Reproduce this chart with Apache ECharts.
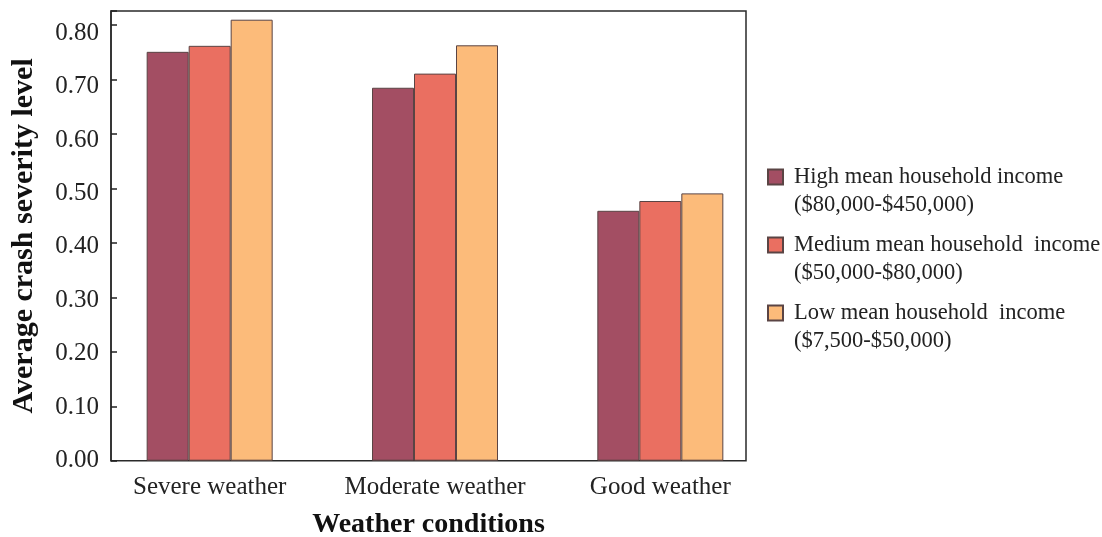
<!DOCTYPE html>
<html>
<head>
<meta charset="utf-8">
<script src="https://cdn.jsdelivr.net/npm/echarts@6/dist/echarts.min.js"></script>
<style>
html,body{margin:0;padding:0;background:#fff;}
#chart{width:1102px;height:537px;}
</style>
</head>
<body>
<div id="chart"></div>
<script>
const categories = ['Severe weather', 'Moderate weather', 'Good weather'];
const seriesNames = [
  'High mean household income\n($80,000-$450,000)',
  'Medium mean household  income\n($50,000-$80,000)',
  'Low mean household  income\n($7,500-$50,000)'
];
const highIncome = [0.751, 0.685, 0.459];
const mediumIncome = [0.762, 0.711, 0.477];
const lowIncome = [0.810, 0.763, 0.491];
const yTicks = [0, 0.1, 0.2, 0.3, 0.4, 0.5, 0.6, 0.7, 0.8];
const colors = ['#A34E63', '#EA6F61', '#FCBB7A'];

const FONT = '"Liberation Serif", "Times New Roman", serif';
const Y_MAX = 0.826;

// rich styles: tick labels drift slightly downward towards the top in the reference
const labelRich = {};
yTicks.forEach((t, k) => {
  labelRich['t' + k] = { fontFamily: FONT, fontSize: 25, color: '#222', padding: [2 * k, 0, 0, 0] };
});

const chart = echarts.init(document.getElementById('chart'));
const values = [highIncome, mediumIncome, lowIncome];

chart.setOption({
  animation: false,
  grid: [
    { left: 111, right: 356, top: 11, bottom: 76.3, show: true, borderColor: '#2a2a2a', borderWidth: 1.5, backgroundColor: 'transparent', containLabel: false, outerBoundsMode: 'none' },
    { left: 97, right: 329, top: 11, bottom: 76.3, containLabel: false, outerBoundsMode: 'none' }
  ],
  xAxis: [
    {
      gridIndex: 0, type: 'value', min: 0, max: 1,
      axisLine: { show: false }, axisTick: { show: false }, axisLabel: { show: false }, splitLine: { show: false },
      name: 'Weather conditions', nameLocation: 'middle', nameGap: 50,
      nameTextStyle: { fontFamily: FONT, fontSize: 28, fontWeight: 'bold', color: '#111' }
    },
    {
      gridIndex: 1, type: 'category', data: categories,
      axisLine: { show: false },
      axisTick: { show: true, inside: true, alignWithLabel: true, length: 4, lineStyle: { color: '#222', width: 1.2 } },
      axisLabel: { fontFamily: FONT, fontSize: 25, color: '#222', margin: 14, interval: 0, hideOverlap: false }
    }
  ],
  yAxis: [
    {
      gridIndex: 0, type: 'value', min: 0, max: Y_MAX, interval: 0.1,
      axisLine: { show: true, lineStyle: { color: '#2a2a2a', width: 1.5 } },
      axisTick: { show: true, inside: true, length: 6, lineStyle: { color: '#222', width: 1.5 } },
      splitLine: { show: false },
      axisLabel: {
        fontFamily: FONT, fontSize: 25, color: '#222', margin: 12,
        rich: labelRich,
        formatter: function (v) {
          const k = yTicks.findIndex(t => Math.abs(t - v) < 1e-6);
          return k < 0 ? '' : '{t' + k + '|' + yTicks[k].toFixed(2) + '}';
        }
      },
      name: 'Average crash severity level', nameLocation: 'middle', nameGap: 72,
      nameTextStyle: { fontFamily: FONT, fontSize: 30, fontWeight: 'bold', color: '#111' }
    },
    { gridIndex: 1, type: 'value', min: 0, max: Y_MAX, show: false }
  ],
  legend: {
    orient: 'vertical', left: 762, top: 130,
    itemWidth: 15, itemHeight: 15, itemGap: -16,
    icon: 'rect',
    selectedMode: false,
    formatter: function (name) { return '\n' + name; },
    textStyle: { fontFamily: FONT, fontSize: 22.5, color: '#222', lineHeight: 28, padding: [0, 0, 0, 6] },
    data: seriesNames
  },
  series: seriesNames.map((name, i) => ({
    name: name,
    type: 'bar',
    xAxisIndex: 1, yAxisIndex: 1,
    data: values[i],
    barWidth: 42,
    barGap: '0%',
    itemStyle: { color: colors[i], borderColor: '#5a4444', borderWidth: 1 }
  }))
});
</script>
</body>
</html>
